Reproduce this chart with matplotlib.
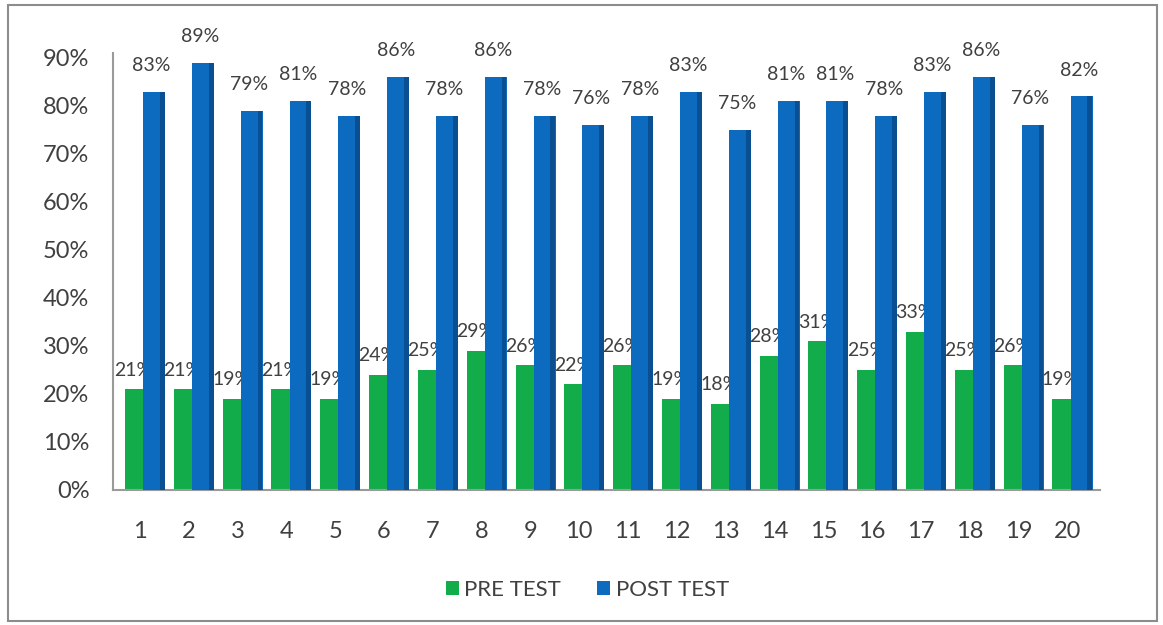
import matplotlib.pyplot as plt
import numpy as np
from matplotlib.patches import Rectangle

groups = [str(i) for i in range(1, 21)]
pre_test = [21, 21, 19, 21, 19, 24, 25, 29, 26, 22, 26, 19, 18, 28, 31, 25, 33, 25, 26, 19]
post_test = [83, 89, 79, 81, 78, 86, 78, 86, 78, 76, 78, 83, 75, 81, 81, 78, 83, 86, 76, 82]
yticks = [0, 10, 20, 30, 40, 50, 60, 70, 80, 90]

green = '#12ad4a'
blue = '#0c6bbf'
blue_dark = '#0a4f92'
txt = '#404040'

plt.rcParams['font.family'] = ['Lato', 'DejaVu Sans']

fig = plt.figure(figsize=(11.63, 6.25), dpi=100)
ax = fig.add_axes([0.0972, 0.216, 0.8487, 0.6912])

x = np.arange(1, len(groups) + 1)
pre = np.array(pre_test) / 100
post = np.array(post_test) / 100

# green series sits in front, its labels get partly covered by the blue bars
ax.bar(x - 0.12, pre, width=0.37, color=green, zorder=2, label='PRE TEST')
for xi, v in zip(x, pre_test):
    ax.text(xi - 0.13, v / 100 + 0.04, f'{v}%', ha='center', va='center',
            fontsize=14, color=txt, zorder=3)

ax.bar(x + 0.29, post, width=0.45, color=blue, zorder=4, label='POST TEST')
ax.bar(x + 0.46, post, width=0.10, color=blue_dark, zorder=4)
for xi, v in zip(x, post_test):
    ax.text(xi + 0.24, v / 100 + 0.055, f'{v}%', ha='center', va='center',
            fontsize=14, color=txt, zorder=5, clip_on=False)

ax.set_xlim(0.45, 20.67)
ax.set_ylim(0, 0.9)
ax.set_xticks(x)
ax.set_xticklabels(groups)
ax.set_yticks([t / 100 for t in yticks])
ax.set_yticklabels([f'{t}%' for t in yticks])
ax.tick_params(axis='both', length=0, labelsize=17, colors=txt)
ax.tick_params(axis='x', pad=22)
ax.tick_params(axis='y', pad=17)

for s in ['top', 'right']:
    ax.spines[s].set_visible(False)
for s in ['left', 'bottom']:
    ax.spines[s].set_color('#9a9a9a')
    ax.spines[s].set_linewidth(1.5)
ax.spines['left'].set_bounds(0, 0.91)

handles, labels = ax.get_legend_handles_labels()
fig.legend(handles, labels, loc='center', bbox_to_anchor=(0.505, 0.056), ncol=2,
           frameon=False, fontsize=16, handlelength=0.6, handleheight=0.6,
           handletextpad=0.25, columnspacing=1.6, labelcolor=txt)

fig.patches.append(Rectangle((0.0069, 0.0064), 0.988, 0.9856, transform=fig.transFigure,
                             fill=False, edgecolor='#8c8c8c', linewidth=1.5))

fig.savefig('out.png', dpi=100)
